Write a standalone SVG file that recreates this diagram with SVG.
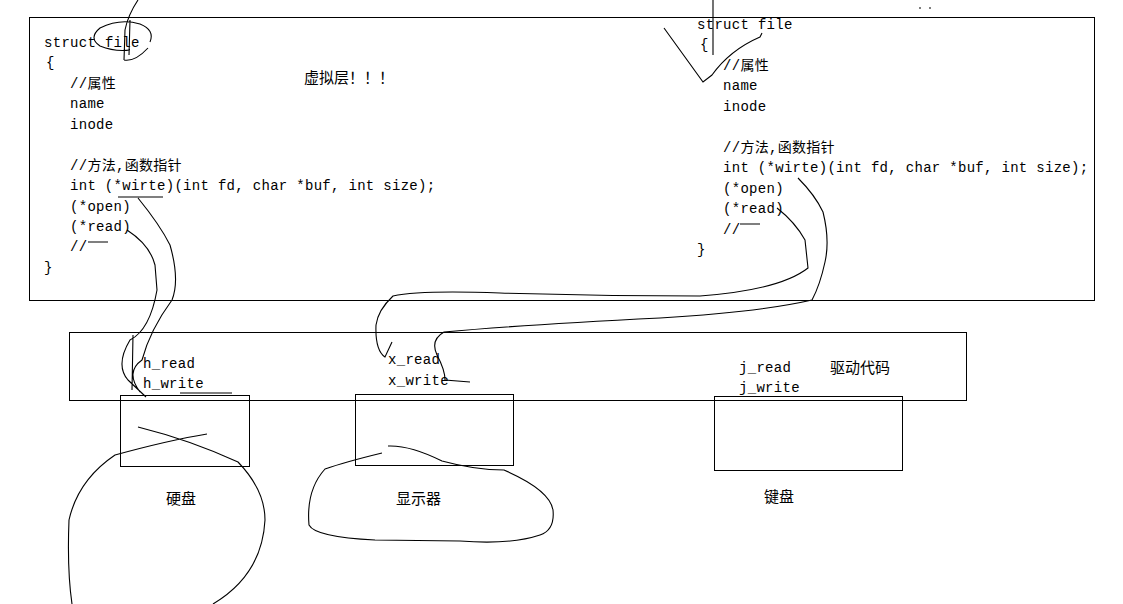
<svg xmlns="http://www.w3.org/2000/svg" width="1123" height="604" viewBox="0 0 1123 604">
<style>
.m{font-family:"Liberation Mono","Noto Sans CJK SC",monospace;font-size:14px;letter-spacing:0.3px;fill:#000}
.c{font-family:"Noto Sans CJK SC",sans-serif;font-size:15px;fill:#000}
.b{fill:none;stroke:#000;stroke-width:1}
.p{fill:none;stroke:#000;stroke-width:1.1}
</style>
<rect width="1123" height="604" fill="#fff"/>
<g id="vfs">
<rect class="b" x="29.5" y="17.5" width="1065" height="283"/>
<text class="m" x="44" y="47">struct file</text>
<text class="m" x="46" y="67">{</text>
<text class="m" x="70" y="88">//属性</text>
<text class="m" x="70" y="108">name</text>
<text class="m" x="70" y="129">inode</text>
<text class="m" x="70" y="170">//方法,函数指针</text>
<text class="m" x="70" y="190">int (*wirte)(int fd, char *buf, int size);</text>
<text class="m" x="70" y="211">(*open)</text>
<text class="m" x="70" y="231">(*read)</text>
<text class="m" x="70" y="251">//</text>
<text class="m" x="44" y="272">}</text>
<text class="c" x="304" y="83">虚拟层！！！</text>
<text class="m" x="697" y="29">struct file</text>
<text class="m" x="700" y="49">{</text>
<text class="m" x="723" y="70">//属性</text>
<text class="m" x="723" y="90">name</text>
<text class="m" x="723" y="111">inode</text>
<text class="m" x="723" y="152">//方法,函数指针</text>
<text class="m" x="723" y="172">int (*wirte)(int fd, char *buf, int size);</text>
<text class="m" x="723" y="193">(*open)</text>
<text class="m" x="723" y="213">(*read)</text>
<text class="m" x="723" y="234">//</text>
<text class="m" x="697" y="254">}</text>
</g>
<g id="driver">
<rect class="b" x="69.5" y="332.5" width="897" height="68"/>
<text class="m" x="143" y="368">h_read</text>
<text class="m" x="143" y="388">h_write</text>
<text class="m" x="388" y="364">x_read</text>
<text class="m" x="388" y="385">x_write</text>
<text class="m" x="739" y="372">j_read</text>
<text class="m" x="739" y="392">j_write</text>
<text class="c" x="830" y="373">驱动代码</text>
</g>
<g id="disk"><rect class="b" x="120.5" y="395.5" width="129" height="71"/><text class="c" x="166" y="504">硬盘</text></g>
<g id="display"><rect class="b" x="355.5" y="394.5" width="158" height="71"/><text class="c" x="396" y="504">显示器</text></g>
<g id="keyboard"><rect class="b" x="714.5" y="396.5" width="188" height="74"/><text class="c" x="764" y="502">键盘</text></g>
<g id="connectors">
<path class="p" d="M138 0 Q128 15 125 30 L124 60 M130 20 L129 55 M124 60 Q135 62 148 48 M150 42 Q155 30 140 24 Q120 18 100 28 Q88 38 100 46 Q115 52 130 50"/>
<path class="p" d="M713 0 L713 55 M664 28 L703 82 L712 75 Q730 50 760 37 L762 33"/>
<path class="p" d="M118 197 L163 197 M138 198 Q160 225 170 245 Q180 280 172 300 Q150 330 142 360 Q125 372 140 392 M127 230 Q150 245 155 265 L157 290 Q150 330 130 340 Q115 365 128 380 L146 397 M133 335 L132 390 M88 242 L108 242"/>
<path class="p" d="M798 178 Q815 195 823 212 Q830 240 825 262 Q820 285 812 300 Q760 312 660 318 Q520 325 444 332 Q430 340 437 355 Q445 370 445 380 L470 382 M777 208 Q795 222 805 240 L808 268 Q780 290 700 296 Q600 296 500 293 Q420 290 393 296 Q378 310 376 325 Q375 350 385 357 L392 342 M740 224 L760 224"/>
<path class="p" d="M138 427 Q190 440 238 462 Q265 490 265 520 Q262 575 213 604 M207 434 Q170 440 115 455 Q78 480 69 520 Q67 570 72 604 M180 393 L232 393"/>
<path class="p" d="M388 446 Q410 445 442 461 Q475 470 504 470 Q550 490 553 510 Q555 530 540 535 Q510 545 460 541 L375 540 Q315 537 309 525 Q306 490 325 469 Q345 462 382 453"/>
<path class="p" d="M919 8 L921 8 M929 8 L931 8"/>
</g>
</svg>
